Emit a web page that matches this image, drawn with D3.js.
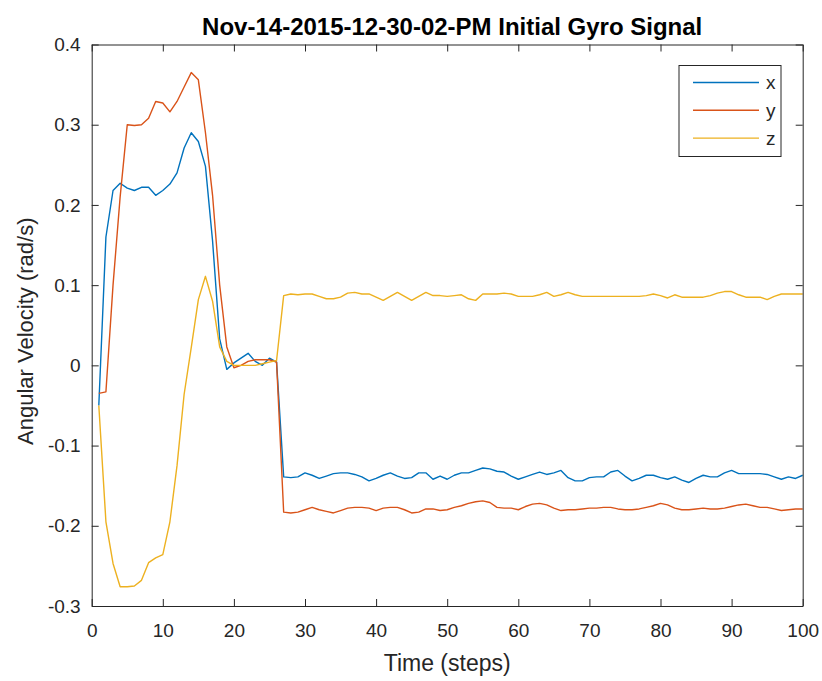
<!DOCTYPE html>
<html>
<head>
<meta charset="utf-8">
<script src="https://cdn.jsdelivr.net/npm/d3@7"></script>
<style>
  html, body { margin: 0; padding: 0; background: #fff; }
  svg { display: block; font-family: "Liberation Sans", Arial, Helvetica, sans-serif; }
</style>
</head>
<body>
<svg id="chart" width="822" height="681"></svg>
<script>
// Gyro angular velocity per time step (rad/s), steps 1..100
const steps = d3.range(1, 101);

const gyroX = [
  -0.050, 0.160, 0.218, 0.227, 0.221, 0.218, 0.222, 0.222, 0.212, 0.218,
   0.226, 0.240, 0.271, 0.290, 0.279, 0.248, 0.155, 0.033, -0.005, 0.003,
   0.009, 0.015, 0.005, 0.000, 0.009, 0.004, -0.139, -0.140, -0.139, -0.134,
  -0.137, -0.141, -0.138, -0.135, -0.134, -0.134, -0.136, -0.139, -0.144, -0.141,
  -0.137, -0.134, -0.138, -0.141, -0.140, -0.134, -0.134, -0.142, -0.138, -0.142,
  -0.137, -0.134, -0.134, -0.131, -0.128, -0.129, -0.132, -0.133, -0.138, -0.142,
  -0.139, -0.136, -0.133, -0.136, -0.134, -0.131, -0.140, -0.144, -0.144, -0.140,
  -0.139, -0.139, -0.133, -0.131, -0.138, -0.144, -0.141, -0.137, -0.137, -0.140,
  -0.142, -0.139, -0.143, -0.146, -0.141, -0.137, -0.139, -0.139, -0.134, -0.131,
  -0.135, -0.135, -0.135, -0.135, -0.136, -0.139, -0.142, -0.139, -0.141, -0.137
];

const gyroY = [
  -0.035, -0.033, 0.100, 0.210, 0.300, 0.299, 0.300, 0.308, 0.329, 0.327,
   0.316, 0.329, 0.347, 0.365, 0.356, 0.290, 0.212, 0.100, 0.023, -0.003,
   0.000, 0.005, 0.007, 0.007, 0.007, 0.004, -0.183, -0.184, -0.183, -0.180,
  -0.177, -0.180, -0.182, -0.184, -0.181, -0.178, -0.177, -0.177, -0.178, -0.181,
  -0.178, -0.177, -0.177, -0.180, -0.184, -0.183, -0.179, -0.179, -0.181, -0.180,
  -0.177, -0.175, -0.172, -0.170, -0.169, -0.171, -0.177, -0.178, -0.178, -0.180,
  -0.176, -0.173, -0.172, -0.174, -0.178, -0.181, -0.180, -0.180, -0.179, -0.178,
  -0.178, -0.177, -0.177, -0.179, -0.180, -0.180, -0.179, -0.177, -0.175, -0.172,
  -0.174, -0.178, -0.180, -0.180, -0.179, -0.178, -0.179, -0.179, -0.178, -0.176,
  -0.174, -0.173, -0.175, -0.177, -0.177, -0.179, -0.181, -0.180, -0.179, -0.179
];

const gyroZ = [
  -0.050, -0.195, -0.247, -0.276, -0.276, -0.275, -0.268, -0.246, -0.240, -0.236,
  -0.195, -0.125, -0.036, 0.022, 0.082, 0.111, 0.080, 0.023, 0.005, 0.000,
   0.000, 0.000, 0.000, 0.002, 0.004, 0.006, 0.087, 0.089, 0.088, 0.089,
   0.089, 0.086, 0.083, 0.083, 0.085, 0.090, 0.091, 0.089, 0.089, 0.085,
   0.081, 0.086, 0.091, 0.086, 0.081, 0.086, 0.091, 0.087, 0.087, 0.086,
   0.087, 0.088, 0.083, 0.081, 0.089, 0.089, 0.089, 0.090, 0.089, 0.086,
   0.086, 0.086, 0.088, 0.091, 0.086, 0.088, 0.091, 0.088, 0.086, 0.086,
   0.086, 0.086, 0.086, 0.086, 0.086, 0.086, 0.086, 0.087, 0.089, 0.087,
   0.084, 0.088, 0.085, 0.085, 0.085, 0.085, 0.087, 0.090, 0.092, 0.092,
   0.088, 0.085, 0.085, 0.085, 0.082, 0.086, 0.089, 0.089, 0.089, 0.089
];

const seriesNames = ["x", "y", "z"];
const seriesColors = ["#0072BD", "#D95319", "#EDB120"];
const xTicks = d3.range(0, 101, 10);
const yTicks = [-0.3, -0.2, -0.1, 0, 0.1, 0.2, 0.3, 0.4];

const titleText = "Nov-14-2015-12-30-02-PM Initial Gyro Signal";
const xLabel = "Time (steps)";
const yLabel = "Angular Velocity (rad/s)";

const series = [gyroX, gyroY, gyroZ].map((vals, i) => ({
  name: seriesNames[i],
  color: seriesColors[i],
  points: steps.map((s, k) => [s, vals[k]])
}));

const svg = d3.select("#chart");
const axisColor = "#262626";
const plot = { left: 91.7, right: 802.7, top: 44.5, bottom: 606 };

const x = d3.scaleLinear().domain([0, 100]).range([plot.left, plot.right]);
const y = d3.scaleLinear().domain([-0.3, 0.4]).range([plot.bottom, plot.top]);

const tickLen = 7;
// plain hyphen for negatives, "0" for zero
const fmtY = d => (Math.abs(d) < 1e-9 ? "0" : d.toFixed(1));

// data lines
const line = d3.line().x(d => x(d[0])).y(d => y(d[1]));
svg.append("g").selectAll("path")
  .data(series)
  .join("path")
  .attr("d", d => line(d.points))
  .attr("fill", "none")
  .attr("stroke", d => d.color)
  .attr("stroke-width", 1.4)
  .attr("stroke-linejoin", "round");

// axes: bottom / left with labels, top / right close the box; ticks point inward
const bottomAxis = d3.axisBottom(x).tickValues(xTicks).tickSizeInner(-tickLen).tickSizeOuter(0).tickPadding(18).tickFormat(d3.format("d"));
const topAxis = d3.axisTop(x).tickValues(xTicks).tickSizeInner(-tickLen).tickSizeOuter(0).tickFormat("");
const leftAxis = d3.axisLeft(y).tickValues(yTicks).tickSizeInner(-tickLen).tickSizeOuter(0).tickPadding(11).tickFormat(fmtY);
const rightAxis = d3.axisRight(y).tickValues(yTicks).tickSizeInner(-tickLen).tickSizeOuter(0).tickFormat("");

function styleAxis(g) {
  g.select(".domain").attr("stroke", axisColor).attr("stroke-width", 1);
  g.selectAll(".tick line").attr("stroke", axisColor).attr("stroke-width", 1);
  g.selectAll(".tick text").attr("fill", axisColor).style("font-size", "19px");
}

svg.append("g").attr("transform", `translate(0,${plot.bottom})`).call(bottomAxis).call(styleAxis);
svg.append("g").attr("transform", `translate(0,${plot.top})`).call(topAxis).call(styleAxis);
svg.append("g").attr("transform", `translate(${plot.left},0)`).call(leftAxis).call(styleAxis);
svg.append("g").attr("transform", `translate(${plot.right},0)`).call(rightAxis).call(styleAxis);

// title and axis labels
svg.append("text")
  .attr("x", (plot.left + plot.right) / 2 + 5)
  .attr("y", 35)
  .attr("text-anchor", "middle")
  .attr("fill", "#000")
  .style("font-size", "24px")
  .style("font-weight", "bold")
  .text(titleText);

svg.append("text")
  .attr("x", (plot.left + plot.right) / 2)
  .attr("y", 671)
  .attr("text-anchor", "middle")
  .attr("fill", axisColor)
  .style("font-size", "23px")
  .text(xLabel);

svg.append("text")
  .attr("transform", `translate(33,${(plot.top + plot.bottom) / 2 + 6}) rotate(-90)`)
  .attr("text-anchor", "middle")
  .attr("fill", axisColor)
  .style("font-size", "22px")
  .text(yLabel);

// legend
const legend = svg.append("g").attr("transform", "translate(679,65.5)");
legend.append("rect")
  .attr("width", 102).attr("height", 91)
  .attr("fill", "#fff").attr("stroke", axisColor).attr("stroke-width", 1);
const items = legend.selectAll("g.item")
  .data(series)
  .join("g")
  .attr("class", "item")
  .attr("transform", (d, i) => `translate(0,${17 + i * 27.8})`);
items.append("line")
  .attr("x1", 14).attr("x2", 80)
  .attr("stroke", d => d.color).attr("stroke-width", 1.4);
items.append("text")
  .attr("x", 87).attr("y", 0).attr("dy", "0.35em")
  .attr("fill", axisColor)
  .style("font-size", "19px")
  .text(d => d.name);
</script>
</body>
</html>
